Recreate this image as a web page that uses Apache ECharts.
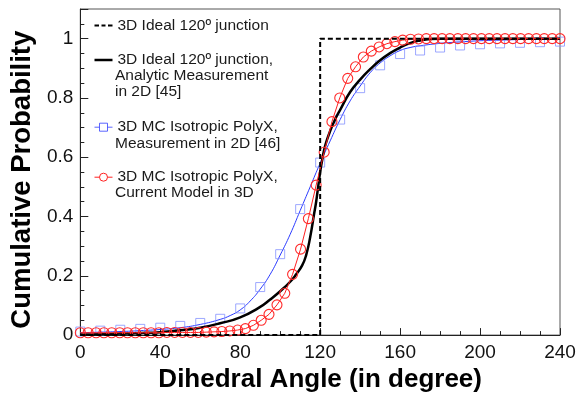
<!DOCTYPE html>
<html>
<head>
<meta charset="utf-8">
<script src="https://cdn.jsdelivr.net/npm/echarts@6/dist/echarts.min.js"></script>
<style>
html,body{margin:0;padding:0;background:#fff;}
#chart{width:579px;height:398px;}
</style>
</head>
<body>
<div id="chart"></div>
<script>
// ---- Data ----
const xTicks = [0, 40, 80, 120, 160, 200, 240];
const yTicks = [0, 0.2, 0.4, 0.6, 0.8, 1];

// 3D ideal 120 deg junction (step)
const idealX = [0, 120, 120, 240];
const idealY = [0, 0, 1, 1];

// 3D ideal 120 deg junction, analytic measurement in 2D
const analyticX = [0, 10, 20, 30, 40, 50, 60, 70, 80, 90, 95, 100, 105, 108, 111, 113, 115, 117, 118, 119, 120, 121, 122, 123, 124, 126, 128, 130, 135, 140, 145, 150, 155, 160, 165, 170, 175, 180, 240];
const analyticY = [0.002, 0.003, 0.005, 0.007, 0.010, 0.016, 0.025, 0.040, 0.060, 0.095, 0.120, 0.148, 0.180, 0.205, 0.235, 0.270, 0.330, 0.410, 0.450, 0.500, 0.550, 0.590, 0.625, 0.650, 0.670, 0.705, 0.735, 0.760, 0.820, 0.862, 0.897, 0.927, 0.951, 0.970, 0.985, 0.994, 0.999, 1.000, 1.000];

// 3D MC isotropic PolyX, measurement in 2D : fitted curve
const mc2dFitX = [0, 10, 20, 30, 40, 50, 60, 70, 75, 80, 85, 90, 95, 100, 105, 110, 115, 120, 125, 130, 135, 140, 145, 150, 155, 160, 165, 170, 180, 190, 200, 210, 220, 230, 240];
const mc2dFitY = [0.008, 0.010, 0.012, 0.015, 0.019, 0.025, 0.036, 0.053, 0.066, 0.085, 0.115, 0.155, 0.205, 0.270, 0.340, 0.420, 0.500, 0.580, 0.655, 0.727, 0.790, 0.840, 0.885, 0.918, 0.942, 0.960, 0.970, 0.976, 0.984, 0.989, 0.993, 0.995, 0.997, 0.998, 0.999];

// 3D MC isotropic PolyX, measurement in 2D : data squares
const mc2dX = [0, 10, 20, 30, 40, 50, 60, 70, 80, 90, 100, 110, 120, 130, 140, 150, 160, 170, 180, 190, 200, 210, 220, 230, 240];
const mc2dY = [0.012, 0.015, 0.018, 0.021, 0.025, 0.031, 0.041, 0.055, 0.090, 0.162, 0.273, 0.425, 0.582, 0.727, 0.833, 0.910, 0.948, 0.960, 0.970, 0.977, 0.981, 0.984, 0.986, 0.988, 0.990];

// 3D MC isotropic PolyX, current model in 3D : circles
const mc3dX = [0, 3.9, 7.9, 11.8, 15.7, 19.7, 23.6, 27.5, 31.5, 35.4, 39.3, 43.3, 47.2, 51.1, 55.1, 59.0, 63.0, 66.9, 70.8, 74.8, 78.7, 82.6, 86.6, 90.5, 94.4, 98.4, 102.3, 106.2, 110.2, 114.1, 118.0, 122.0, 125.9, 129.8, 133.8, 137.7, 141.6, 145.6, 149.5, 153.4, 157.4, 161.3, 165.2, 169.2, 173.1, 177.0, 181.0, 184.9, 188.9, 192.8, 196.7, 200.7, 204.6, 208.5, 212.5, 216.4, 220.3, 224.3, 228.2, 232.1, 236.1, 240.0];
const mc3dY = [0.008, 0.008, 0.008, 0.008, 0.008, 0.008, 0.008, 0.008, 0.008, 0.008, 0.008, 0.009, 0.009, 0.009, 0.009, 0.009, 0.010, 0.011, 0.012, 0.014, 0.017, 0.022, 0.033, 0.050, 0.070, 0.102, 0.141, 0.205, 0.290, 0.393, 0.506, 0.617, 0.720, 0.800, 0.866, 0.905, 0.938, 0.958, 0.972, 0.983, 0.990, 0.995, 0.998, 0.999, 1.000, 1.000, 1.000, 1.000, 1.000, 1.000, 1.000, 1.000, 1.000, 1.000, 1.000, 1.000, 1.000, 1.000, 1.000, 1.000, 1.000, 1.000];

const names = [
  '3D Ideal 120º junction',
  '3D Ideal 120º junction,\nAnalytic Measurement\nin 2D [45]',
  '3D MC Isotropic PolyX,\nMeasurement in 2D [46]',
  '3D MC Isotropic PolyX,\nCurrent Model in 3D'
];
const xTitle = 'Dihedral Angle (in degree)';
const yTitle = 'Cumulative Probability';

// ---- Chart ----
const zip = (xs, ys) => xs.map((x, i) => [x, ys[i]]);
const FONT = 'Liberation Sans';
const chart = echarts.init(document.getElementById('chart'), null, {renderer: 'canvas'});

const legendFont = 15.5;
const legendText = {fontFamily: FONT, fontSize: legendFont, color: '#1a1a1a', lineHeight: 16};
const box = 'M0,0L0,0M18,12L18,12';
const legendDefs = [
  {name: names[0], top: 17, icon: 'path://' + box + 'M0,6L4.5,6M7,6L11,6M13.5,6L18,6', stroke: '#000', w: 2},
  {name: names[1], top: 51.5, icon: 'path://' + box + 'M0,6L18,6', stroke: '#000', w: 2.5},
  {name: names[2], top: 118.7, icon: 'path://' + box + 'M0,6L5,6M13,6L18,6M5,2L13,2L13,10L5,10Z', stroke: '#3340ff', w: 1},
  {name: names[3], top: 168.7, icon: 'path://' + box + 'M0,6L5,6M13,6L18,6M13,6A4,4,0,1,1,5,6A4,4,0,1,1,13,6Z', stroke: '#ff2020', w: 1}
];
const legends = legendDefs.map(d => ({
  data: [d.name],
  left: 92,
  top: d.top,
  padding: 0,
  itemWidth: 18,
  itemHeight: 12,
  itemGap: 5,
  selectedMode: false,
  icon: d.icon,
  itemStyle: {color: 'none', borderColor: d.stroke, borderWidth: d.w, borderType: 'solid'},
  formatter: n => n.split('\n')[0],
  textStyle: legendText
}));

// continuation lines of the legend labels
const contLines = [];
const contY = {1: [76, 91.7], 2: [143.3], 3: [192.7]};
Object.keys(contY).forEach(k => {
  const lines = names[k].split('\n').slice(1);
  lines.forEach((t, j) => {
    contLines.push({
      type: 'text', left: 115, top: contY[k][j] - 8,
      style: {text: t, fill: '#1a1a1a', font: legendFont + 'px "' + FONT + '"', lineHeight: 16, textVerticalAlign: 'top'}
    });
  });
});

const option = {
  animation: false,
  backgroundColor: '#fff',
  grid: {left: 75, right: 19, top: 9, bottom: 59, show: true, borderColor: '#555', borderWidth: 1, backgroundColor: 'transparent'},
  legend: legends,
  graphic: contLines,
  xAxis: {
    type: 'value', min: 0, max: 240, interval: 40,
    name: xTitle, nameLocation: 'middle', nameGap: 29,
    nameTextStyle: {fontFamily: FONT, fontSize: 26, fontWeight: 'bold', color: '#000'},
    axisLine: {show: true, onZero: false, lineStyle: {color: '#222', width: 1}},
    axisTick: {show: true, inside: true, length: 7, lineStyle: {color: '#222'}},
    minorTick: {show: true, splitNumber: 4, length: 4, lineStyle: {color: '#222'}},
    splitLine: {show: false},
    axisLabel: {fontFamily: FONT, fontSize: 19, color: '#111', margin: 8,
      formatter: v => xTicks.indexOf(v) >= 0 ? String(v) : ''}
  },
  yAxis: {
    type: 'value', min: 0, max: 1.1, interval: 0.2,
    name: yTitle + '\u00a0\u00a0', nameLocation: 'middle', nameGap: 39,
    nameTextStyle: {fontFamily: FONT, fontSize: 27.5, fontWeight: 'bold', color: '#000'},
    axisLine: {show: true, onZero: false, lineStyle: {color: '#222', width: 1}},
    axisTick: {show: true, inside: true, length: 8, lineStyle: {color: '#222'}},
    minorTick: {show: true, splitNumber: 4, length: 4, lineStyle: {color: '#222'}},
    splitLine: {show: false},
    axisLabel: {fontFamily: FONT, fontSize: 19, color: '#111', margin: 7, showMaxLabel: false,
      formatter: v => {
        const t = yTicks.find(y => Math.abs(y - v) < 1e-6);
        return t === undefined ? '' : String(t);
      }}
  },
  series: [
    {
      name: 'mc2d-fit', type: 'line', data: zip(mc2dFitX, mc2dFitY),
      symbol: 'none', smooth: 0.5,
      lineStyle: {color: '#2b3bff', width: 1}, z: 2
    },
    {
      name: names[2], type: 'scatter', data: zip(mc2dX, mc2dY),
      symbol: 'rect', symbolSize: 9,
      itemStyle: {color: 'transparent', borderColor: '#8592ff', borderWidth: 1}, z: 2
    },
    {
      name: names[1], type: 'line', data: zip(analyticX, analyticY),
      symbol: 'none', smooth: 0.5,
      lineStyle: {color: '#000', width: 2.5}, z: 3
    },
    {
      name: names[3], type: 'line', data: zip(mc3dX, mc3dY),
      symbol: 'circle', symbolSize: 10, showSymbol: true, showAllSymbol: true,
      lineStyle: {color: '#ff2020', width: 1},
      itemStyle: {color: 'transparent', borderColor: '#ff2a2a', borderWidth: 1.1}, z: 4
    },
    {
      name: names[0], type: 'line', data: zip(idealX, idealY),
      symbol: 'none',
      lineStyle: {color: '#000', width: 2, type: [5, 3]}, z: 5
    }
  ]
};
chart.setOption(option);
</script>
</body>
</html>
